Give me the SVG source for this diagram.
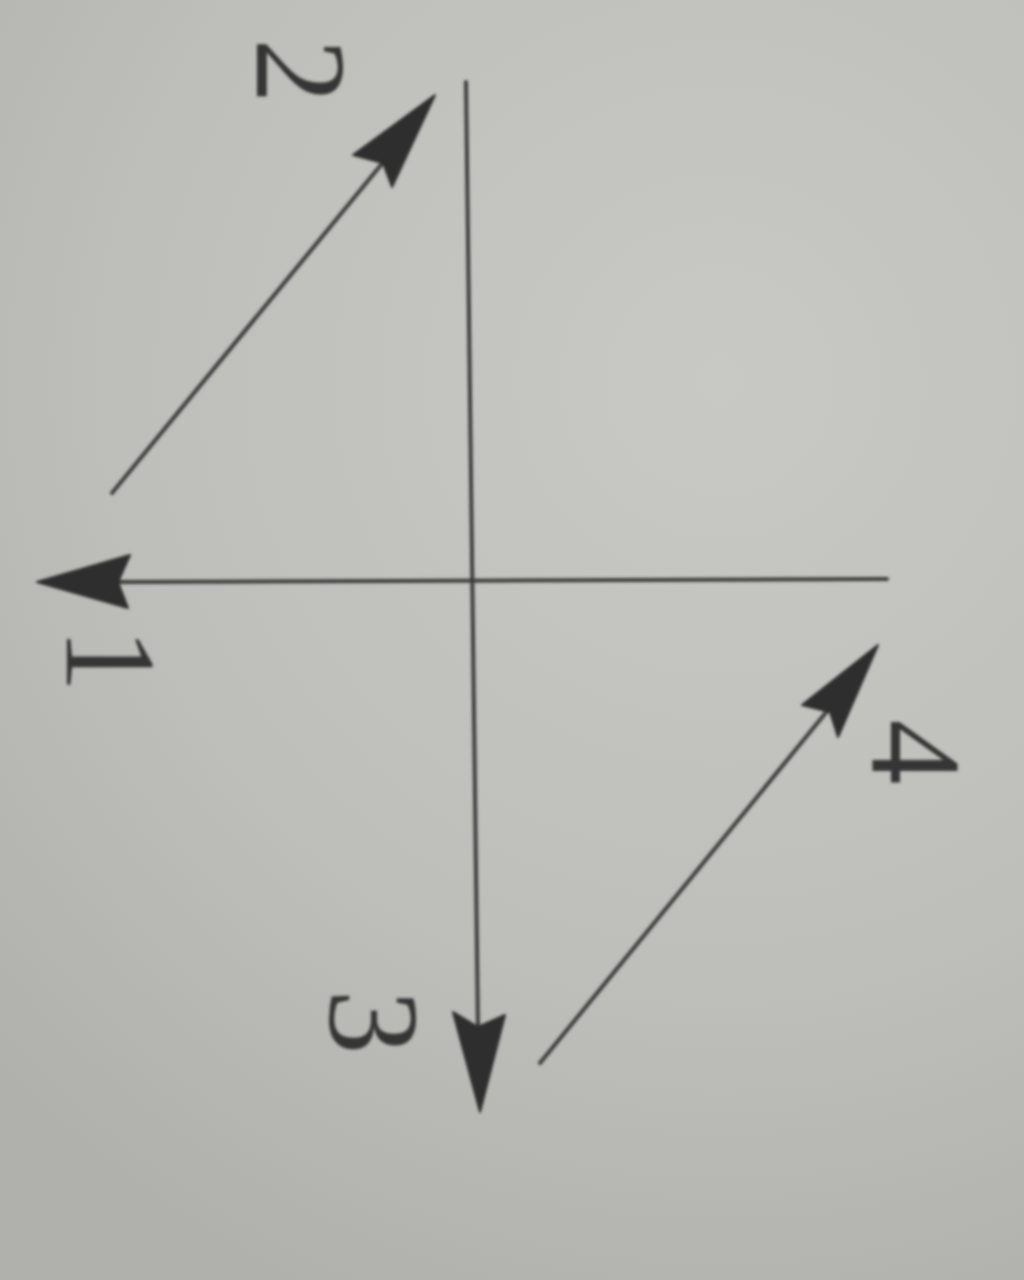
<svg xmlns="http://www.w3.org/2000/svg" width="1024" height="1280" viewBox="0 0 1024 1280">
<defs>
<radialGradient id="bg" cx="720" cy="380" r="1000" gradientUnits="userSpaceOnUse">
<stop offset="0" stop-color="#c8c8c4"/>
<stop offset="0.6" stop-color="#bebebb"/>
<stop offset="1" stop-color="#b0b0ad"/>
</radialGradient>
<filter id="soft" x="-5%" y="-5%" width="110%" height="110%"><feGaussianBlur stdDeviation="1.6"/></filter>
<style>
.ln{stroke:#3c3c3c;stroke-width:4;fill:none;stroke-linecap:round}
.hd{fill:#2e2e2e;stroke:#2e2e2e;stroke-width:2;stroke-linejoin:round}
.lb{font-family:"Liberation Serif","DejaVu Serif",serif;font-size:130px;fill:#363636;text-anchor:middle}
</style>
</defs>
<rect x="0" y="0" width="1024" height="1280" fill="url(#bg)"/>
<g id="connectors" filter="url(#soft)">
<g id="axis-vertical">
<line class="ln" x1="466" y1="82" x2="478" y2="1030"/>
<polygon class="hd" points="480,1112 453,1012 478,1027 505,1015"/>
</g>
<g id="axis-horizontal">
<line class="ln" x1="887" y1="579" x2="115" y2="582"/>
<polygon class="hd" points="37,582 130,555 118,582 128,608"/>
</g>
<g id="arrow-2">
<line class="ln" x1="112" y1="493" x2="385" y2="160"/>
<polygon class="hd" points="435,95 353,155 383,163 392,187"/>
</g>
<g id="arrow-4">
<line class="ln" x1="540" y1="1063" x2="828" y2="710"/>
<polygon class="hd" points="878,645 802,705 830,712 838,737"/>
</g>
</g>
<g filter="url(#soft)">
<g id="label-1"><text class="lb" transform="translate(67,660) rotate(90)">1</text></g>
<g id="label-2"><text class="lb" transform="translate(257,71) rotate(90)">2</text></g>
<g id="label-3"><text class="lb" transform="translate(330,1022) rotate(90)">3</text></g>
<g id="label-4"><text class="lb" transform="translate(872,752) rotate(90)">4</text></g>
</g>
</svg>
